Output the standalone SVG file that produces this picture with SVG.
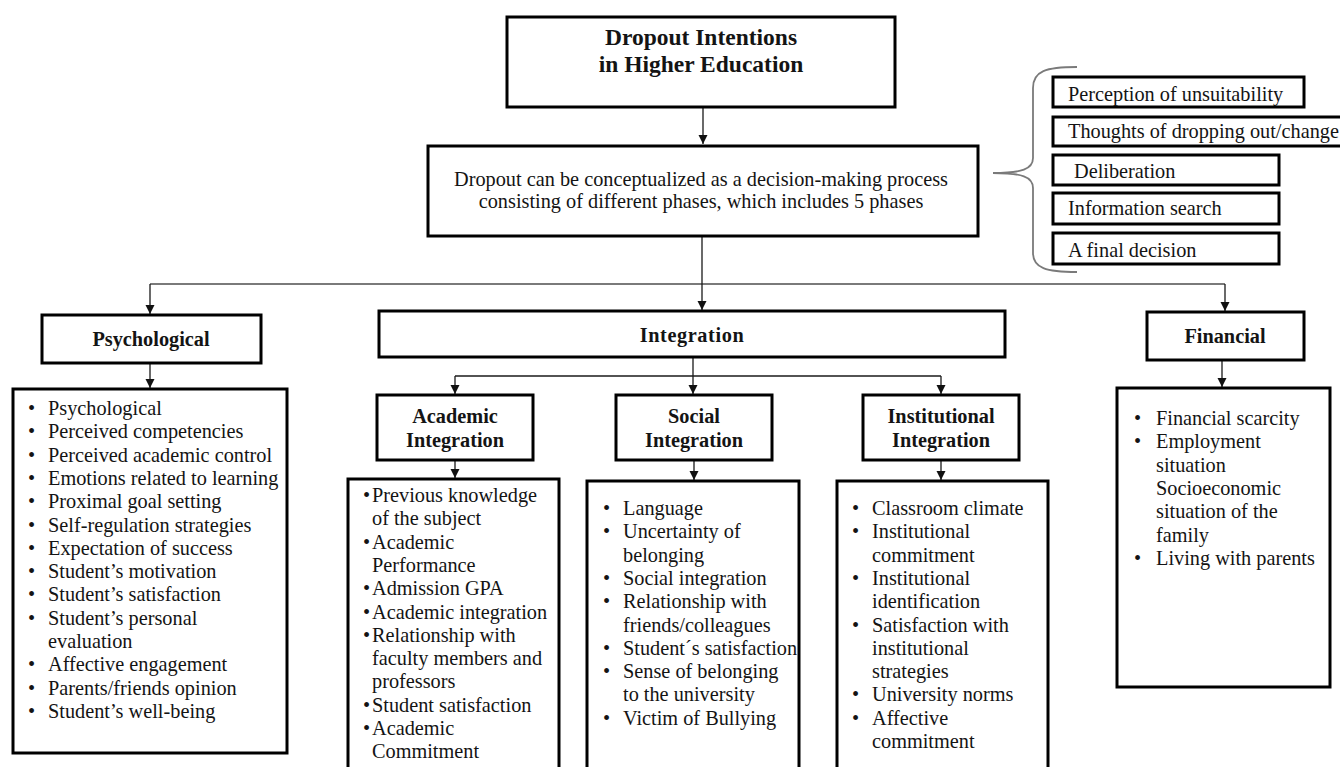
<svg xmlns="http://www.w3.org/2000/svg" width="1340" height="767" viewBox="0 0 1340 767">
<style>
.box{fill:#fff;stroke:#000;stroke-width:3}
.t{font-family:"Liberation Serif","Times New Roman",serif;font-size:20.3px;fill:#141414}
.b{font-weight:bold}
.c{text-anchor:middle}
.conn{fill:none;stroke:#1a1a1a;stroke-width:1.3}
.gray{fill:none;stroke:#7a7a7a;stroke-width:1.8}
</style>
<defs>
<marker id="ah" markerUnits="userSpaceOnUse" markerWidth="10" markerHeight="10" refX="9" refY="4.5" orient="auto">
<path d="M0,0 L9,4.5 L0,9 z" fill="#111"/>
</marker>
</defs>
<rect width="1340" height="767" fill="#fff"/>

<g id="connectors">
<path class="conn" d="M703,107 V144" marker-end="url(#ah)"/>
<path class="gray" d="M150,284 H1225"/>
<path class="conn" d="M702,236 V310" marker-end="url(#ah)"/>
<path class="conn" d="M150,284 V314" marker-end="url(#ah)"/>
<path class="conn" d="M1225,284 V311" marker-end="url(#ah)"/>
<path class="conn" d="M150,363 V388" marker-end="url(#ah)"/>
<path class="conn" d="M1222,360 V387" marker-end="url(#ah)"/>
<path class="conn" d="M693,357 V394" marker-end="url(#ah)"/>
<path class="conn" d="M455,376 H941"/>
<path class="conn" d="M455,376 V394" marker-end="url(#ah)"/>
<path class="conn" d="M941,376 V394" marker-end="url(#ah)"/>
<path class="conn" d="M455,460 V478" marker-end="url(#ah)"/>
<path class="conn" d="M694,460 V480" marker-end="url(#ah)"/>
<path class="conn" d="M941,460 V480" marker-end="url(#ah)"/>
<path class="gray" d="M1077,67 C1046,67 1033,71 1033,88 V158 C1033,169 1022,173 993,173 C1022,173 1033,177 1033,188 V253 C1033,268 1046,272 1077,272"/>
</g>

<g id="title">
<rect class="box" x="507" y="17" width="388" height="90"/>
<text class="t b c" x="701" y="45" style="font-size:23.5px">Dropout Intentions</text>
<text class="t b c" x="701" y="72" style="font-size:23.5px">in Higher Education</text>
</g>

<g id="process">
<rect class="box" x="428" y="146" width="550" height="90"/>
<text class="t c" x="701" y="186">Dropout can be conceptualized as a decision-making process</text>
<text class="t c" x="701" y="208">consisting of different phases, which includes 5 phases</text>
</g>

<g id="phase1">
<rect class="box" x="1053" y="77" width="251" height="30"/>
<text class="t" x="1068" y="101">Perception of unsuitability</text>
</g>
<g id="phase2">
<rect class="box" x="1053" y="117" width="300" height="29"/>
<text class="t" x="1068" y="138">Thoughts of dropping out/change</text>
</g>
<g id="phase3">
<rect class="box" x="1053" y="155" width="226" height="30"/>
<text class="t" x="1074" y="178">Deliberation</text>
</g>
<g id="phase4">
<rect class="box" x="1053" y="193" width="226" height="31"/>
<text class="t" x="1068" y="215">Information search</text>
</g>
<g id="phase5">
<rect class="box" x="1053" y="233" width="226" height="31"/>
<text class="t" x="1068" y="257">A final decision</text>
</g>

<g id="psychological">
<rect class="box" x="42" y="315" width="219" height="48"/>
<text class="t b c" x="151" y="346">Psychological</text>
</g>

<g id="psychological-list">
<rect class="box" x="13" y="389" width="274" height="364"/>
<text class="t">
<tspan x="28" y="415">•</tspan><tspan x="48" y="415">Psychological</tspan>
<tspan x="28" y="438.3">•</tspan><tspan x="48" y="438.3">Perceived competencies</tspan>
<tspan x="28" y="461.6">•</tspan><tspan x="48" y="461.6">Perceived academic control</tspan>
<tspan x="28" y="484.9">•</tspan><tspan x="48" y="484.9">Emotions related to learning</tspan>
<tspan x="28" y="508.2">•</tspan><tspan x="48" y="508.2">Proximal goal setting</tspan>
<tspan x="28" y="531.5">•</tspan><tspan x="48" y="531.5">Self-regulation strategies</tspan>
<tspan x="28" y="554.8">•</tspan><tspan x="48" y="554.8">Expectation of success</tspan>
<tspan x="28" y="578.1">•</tspan><tspan x="48" y="578.1">Student’s motivation</tspan>
<tspan x="28" y="601.4">•</tspan><tspan x="48" y="601.4">Student’s satisfaction</tspan>
<tspan x="28" y="624.7">•</tspan><tspan x="48" y="624.7">Student’s personal</tspan>
<tspan x="48" y="648">evaluation</tspan>
<tspan x="28" y="671.3">•</tspan><tspan x="48" y="671.3">Affective engagement</tspan>
<tspan x="28" y="694.6">•</tspan><tspan x="48" y="694.6">Parents/friends opinion</tspan>
<tspan x="28" y="717.9">•</tspan><tspan x="48" y="717.9">Student’s well-being</tspan>
</text>
</g>

<g id="integration">
<rect class="box" x="379" y="311" width="626" height="46"/>
<text class="t b c" x="692" y="342" style="letter-spacing:0.6px">Integration</text>
</g>

<g id="academic">
<rect class="box" x="377" y="395" width="156" height="65"/>
<text class="t b c" x="455" y="423">Academic</text>
<text class="t b c" x="455" y="447">Integration</text>
</g>
<g id="social">
<rect class="box" x="616" y="395" width="156" height="65"/>
<text class="t b c" x="694" y="423">Social</text>
<text class="t b c" x="694" y="447">Integration</text>
</g>
<g id="institutional">
<rect class="box" x="863" y="395" width="156" height="65"/>
<text class="t b c" x="941" y="423">Institutional</text>
<text class="t b c" x="941" y="447">Integration</text>
</g>

<g id="academic-list">
<rect class="box" x="348" y="479" width="211" height="300"/>
<text class="t">
<tspan x="363" y="502">•</tspan><tspan x="372" y="502">Previous knowledge</tspan>
<tspan x="372" y="525.3">of the subject</tspan>
<tspan x="363" y="548.6">•</tspan><tspan x="372" y="548.6">Academic</tspan>
<tspan x="372" y="571.9">Performance</tspan>
<tspan x="363" y="595.2">•</tspan><tspan x="372" y="595.2">Admission GPA</tspan>
<tspan x="363" y="618.5">•</tspan><tspan x="372" y="618.5">Academic integration</tspan>
<tspan x="363" y="641.8">•</tspan><tspan x="372" y="641.8">Relationship with</tspan>
<tspan x="372" y="665.1">faculty members and</tspan>
<tspan x="372" y="688.4">professors</tspan>
<tspan x="363" y="711.7">•</tspan><tspan x="372" y="711.7">Student satisfaction</tspan>
<tspan x="363" y="735">•</tspan><tspan x="372" y="735">Academic</tspan>
<tspan x="372" y="758.3">Commitment</tspan>
</text>
</g>

<g id="social-list">
<rect class="box" x="587" y="481" width="212" height="300"/>
<text class="t">
<tspan x="603" y="515">•</tspan><tspan x="623" y="515">Language</tspan>
<tspan x="603" y="538.3">•</tspan><tspan x="623" y="538.3">Uncertainty of</tspan>
<tspan x="623" y="561.6">belonging</tspan>
<tspan x="603" y="584.9">•</tspan><tspan x="623" y="584.9">Social integration</tspan>
<tspan x="603" y="608.2">•</tspan><tspan x="623" y="608.2">Relationship with</tspan>
<tspan x="623" y="631.5">friends/colleagues</tspan>
<tspan x="603" y="654.8">•</tspan><tspan x="623" y="654.8">Student´s satisfaction</tspan>
<tspan x="603" y="678.1">•</tspan><tspan x="623" y="678.1">Sense of belonging</tspan>
<tspan x="623" y="701.4">to the university</tspan>
<tspan x="603" y="724.7">•</tspan><tspan x="623" y="724.7">Victim of Bullying</tspan>
</text>
</g>

<g id="institutional-list">
<rect class="box" x="837" y="481" width="211" height="300"/>
<text class="t">
<tspan x="852" y="515">•</tspan><tspan x="872" y="515">Classroom climate</tspan>
<tspan x="852" y="538.3">•</tspan><tspan x="872" y="538.3">Institutional</tspan>
<tspan x="872" y="561.6">commitment</tspan>
<tspan x="852" y="584.9">•</tspan><tspan x="872" y="584.9">Institutional</tspan>
<tspan x="872" y="608.2">identification</tspan>
<tspan x="852" y="631.5">•</tspan><tspan x="872" y="631.5">Satisfaction with</tspan>
<tspan x="872" y="654.8">institutional</tspan>
<tspan x="872" y="678.1">strategies</tspan>
<tspan x="852" y="701.4">•</tspan><tspan x="872" y="701.4">University norms</tspan>
<tspan x="852" y="724.7">•</tspan><tspan x="872" y="724.7">Affective</tspan>
<tspan x="872" y="748">commitment</tspan>
</text>
</g>

<g id="financial">
<rect class="box" x="1147" y="312" width="157" height="48"/>
<text class="t b c" x="1225" y="343">Financial</text>
</g>

<g id="financial-list">
<rect class="box" x="1117" y="388" width="213" height="299"/>
<text class="t">
<tspan x="1134" y="425">•</tspan><tspan x="1156" y="425">Financial scarcity</tspan>
<tspan x="1134" y="448.3">•</tspan><tspan x="1156" y="448.3">Employment</tspan>
<tspan x="1156" y="471.6">situation</tspan>
<tspan x="1156" y="494.9">Socioeconomic</tspan>
<tspan x="1156" y="518.2">situation of the</tspan>
<tspan x="1156" y="541.5">family</tspan>
<tspan x="1134" y="564.8">•</tspan><tspan x="1156" y="564.8">Living with parents</tspan>
</text>
</g>
</svg>
